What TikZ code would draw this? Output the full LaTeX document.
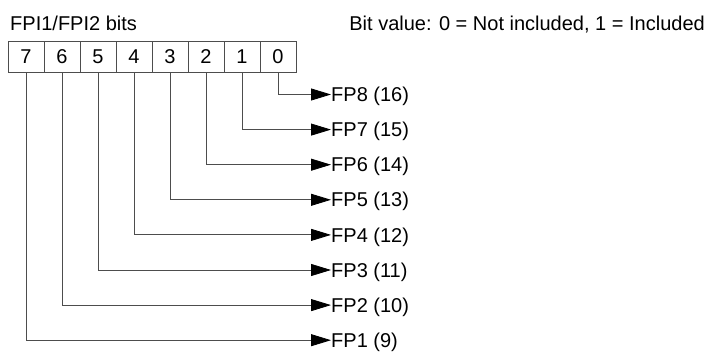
\documentclass[tikz,border=0pt]{standalone}
\usepackage{fontspec}
\setmainfont{Liberation Sans}
\usetikzlibrary{arrows.meta,positioning}
\definecolor{wire}{HTML}{4D4D4D}
\tikzset{
  bitcell/.style={draw=wire,line width=0.8pt,minimum width=36pt,minimum height=31pt,inner sep=0pt,
                  font=\fontsize{20}{24}\selectfont},
  fplbl/.style={anchor=west,inner sep=0pt,text height=14.3pt,text depth=0pt,font=\fontsize{20}{24}\selectfont},
  fpline/.style={draw=wire,line width=0.8pt,-{Triangle[length=20pt,width=12pt,color=black]}},
  head/.style={inner sep=0pt,font=\fontsize{20}{24}\selectfont},
}

\begin{document}
\begin{tikzpicture}[x=1pt,y=-1pt]
  \useasboundingbox (0,0) rectangle (709,352);
  \node[head,anchor=base west] (title) at (10,31) {FPI1/FPI2 bits};
  \node[head,anchor=base east] (key) at (705,31) {Bit value: 0 = Not included, 1 = Included};

  % bit cells, 7 on the left
  \foreach \b in {0,...,7}
    \node[bitcell] (b\b) at ({26+36*(7-\b)},56.5) {\b};

  % one arrow per bit
  \foreach \b in {0,...,7}{
    \pgfmathtruncatemacro{\fp}{8-\b}
    \pgfmathtruncatemacro{\num}{16-\b}
    \node[fplbl] (fp\fp) at (331,{94.5+35.1*\b}) {FP\fp\ (\num)};
    \draw[fpline] (b\b.south) |- (fp\fp.west);
  }
\end{tikzpicture}
\end{document}
